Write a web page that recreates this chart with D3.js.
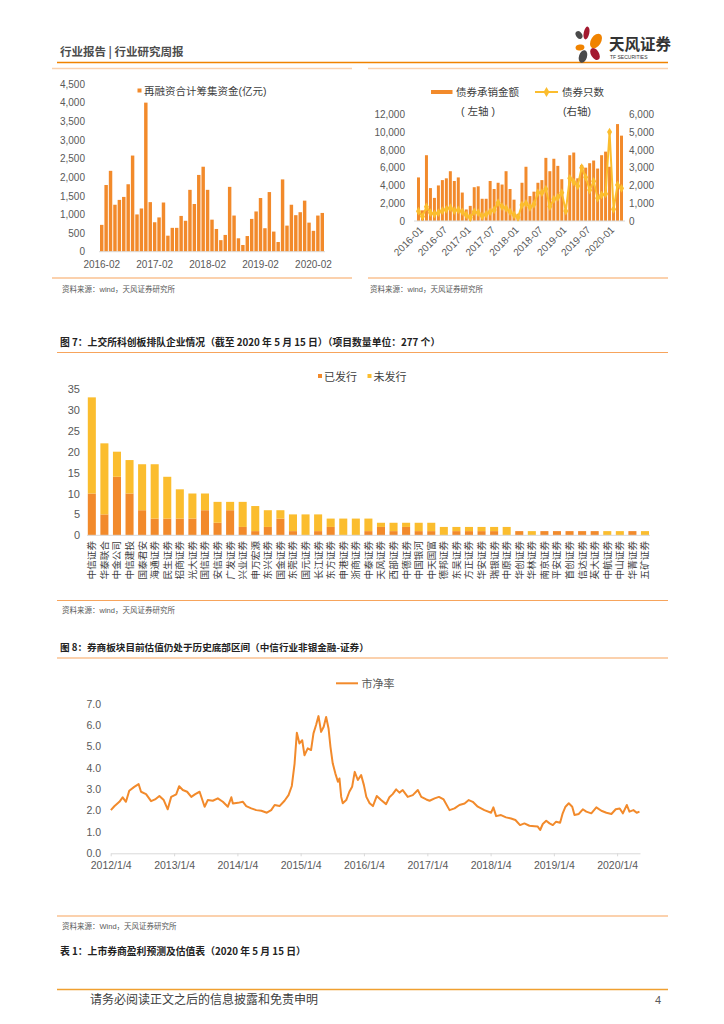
<!DOCTYPE html>
<html>
<head>
<meta charset="utf-8">
<script src="https://cdn.jsdelivr.net/npm/d3@7/dist/d3.min.js"></script>
<style>
  body { margin: 0; background: #fff; }
  svg text { font-family: "Liberation Sans", "Noto Sans CJK SC", sans-serif; }
  .cjk { font-family: "Noto Sans CJK SC", sans-serif !important; }
</style>
</head>
<body>
<svg id="page" width="724" height="1024"></svg>
<script>
// ---- data ----
const refiTicks = ["2016-02", "2017-02", "2018-02", "2019-02", "2020-02"];
const refiValues = [720, 1790, 2170, 1260, 1390, 1470, 1810, 2580, 1000, 1160, 4000, 1330,
  790, 920, 1320, 430, 640, 640, 960, 830, 1660, 1280, 2060, 2280, 1660, 860, 610, 310, 450,
  1740, 970, 360, 180, 420, 880, 1080, 1440, 630, 1600, 540, 260, 1940, 700, 1260, 980, 1060,
  1370, 780, 560, 970, 1040];

const bondTicks = ["2016-01", "2016-07", "2017-01", "2017-07", "2018-01", "2018-07",
  "2019-01", "2019-07", "2020-01"];
const bondAmount = [4900, 1200, 7400, 3700, 2600, 4000, 4600, 4800, 5600, 4500, 4900, 3200,
  1300, 1700, 3800, 3900, 2500, 2500, 4500, 3600, 4300, 4100, 5600, 3600,
  2400, 800, 4300, 6100, 2800, 3300, 4300, 4600, 7100, 5600, 7000, 6200,
  4700, 1200, 7400, 7700, 4800, 6300, 6000, 6500, 6800, 5900, 7400, 7800,
  6100, 1500, 10900, 9600];
const bondCount = [550, 250, 800, 470, 390, 470, 580, 660, 750, 580, 620, 520,
  340, 190, 520, 470, 280, 380, 520, 620, 1030, 810, 710, 520,
  340, 210, 900, 990, 770, 940, 1590, 1590, 1800, 810, 1220, 1330,
  1590, 560, 2400, 2190, 1970, 3000, 2460, 1740, 2230, 1280, 1460, 1520,
  5000, 660, 2030, 1840];

const brokers = ["中信证券", "华泰联合", "中金公司", "中信建投", "国泰君安", "海通证券", "民生证券",
  "招商证券", "光大证券", "国信证券", "安信证券", "广发证券", "兴业证券", "申万宏源", "东兴证券",
  "国金证券", "东莞证券", "国元证券", "长江证券", "东方证券", "申港证券", "浙商证券", "中泰证券",
  "天风证券", "西部证券", "中德证券", "中国银河", "中天国富", "德邦证券", "东吴证券", "方正证券",
  "华安证券", "瑞银证券", "中原证券", "华创证券", "华林证券", "南京证券", "平安证券", "首创证券",
  "信达证券", "英大证券", "中航证券", "中山证券", "华菁证券", "五矿证券"];
const issued = [10, 5, 14, 10, 6, 4, 4, 4, 4, 6, 3, 6, 2, 1, 2, 4, 1, 0, 1, 2, 0, 0, 1,
  2, 1, 2, 1, 1, 0, 1, 1, 1, 1, 0, 1, 0, 1, 1, 1, 1, 1, 0, 0, 1, 0];
const pending = [23, 17, 6, 8, 11, 13, 10, 7, 6, 4, 5, 2, 6, 6, 4, 2, 4, 5, 4, 2, 4, 4, 3,
  1, 2, 1, 2, 2, 2, 1, 1, 1, 1, 2, 0, 1, 0, 0, 0, 0, 0, 1, 1, 0, 1];

const pbTicks = ["2012-01-04", "2013-01-04", "2014-01-04", "2015-01-04", "2016-01-04",
  "2017-01-04", "2018-01-04", "2019-01-04", "2020-01-04"];
const pbDates = ["2012-01-05", "2012-01-25", "2012-02-23", "2012-03-13", "2012-04-01", "2012-04-20",
  "2012-05-19", "2012-06-13", "2012-06-27", "2012-07-26", "2012-08-24", "2012-09-16", "2012-10-11",
  "2012-11-05", "2012-11-28", "2012-12-18", "2013-01-16", "2013-02-02", "2013-02-23", "2013-03-20",
  "2013-04-13", "2013-05-06", "2013-05-31", "2013-06-29", "2013-07-17", "2013-08-15", "2013-09-13",
  "2013-10-12", "2013-11-10", "2013-11-30", "2013-12-09", "2014-01-07", "2014-02-05", "2014-02-24",
  "2014-03-25", "2014-04-23", "2014-05-22", "2014-06-23", "2014-07-18", "2014-08-07", "2014-09-04",
  "2014-10-03", "2014-10-26", "2014-11-14", "2014-11-30", "2014-12-13", "2014-12-28", "2015-01-13",
  "2015-01-26", "2015-02-14", "2015-03-05", "2015-03-19", "2015-04-03", "2015-04-17", "2015-05-02",
  "2015-05-17", "2015-05-31", "2015-06-14", "2015-06-25", "2015-07-08", "2015-07-23", "2015-08-07",
  "2015-08-16", "2015-08-26", "2015-09-04", "2015-09-24", "2015-10-12", "2015-10-28", "2015-11-12",
  "2015-11-30", "2015-12-19", "2016-01-04", "2016-01-18", "2016-02-06", "2016-02-25", "2016-03-18",
  "2016-04-12", "2016-05-11", "2016-05-30", "2016-06-18", "2016-07-08", "2016-07-27", "2016-08-15",
  "2016-09-13", "2016-10-12", "2016-11-10", "2016-11-30", "2016-12-29", "2017-01-17", "2017-02-15",
  "2017-03-12", "2017-04-08", "2017-05-12", "2017-06-10", "2017-07-08", "2017-08-07", "2017-08-31",
  "2017-09-23", "2017-10-22", "2017-11-29", "2018-01-07", "2018-01-20", "2018-02-05", "2018-03-05",
  "2018-04-03", "2018-05-02", "2018-05-27", "2018-06-23", "2018-07-18", "2018-08-16", "2018-09-14",
  "2018-10-03", "2018-10-17", "2018-11-01", "2018-11-21", "2018-12-10", "2018-12-29", "2019-01-17",
  "2019-02-09", "2019-02-24", "2019-03-12", "2019-03-31", "2019-04-20", "2019-05-03", "2019-05-28",
  "2019-06-20", "2019-07-10", "2019-08-08", "2019-09-06", "2019-10-05", "2019-11-03", "2019-12-02",
  "2019-12-27", "2020-01-19", "2020-02-06", "2020-02-29", "2020-03-15", "2020-04-07", "2020-04-26",
  "2020-05-12"];
const pbValues = [2.02, 2.20, 2.41, 2.62, 2.41, 2.93, 3.11, 3.24, 2.88, 2.77, 2.44, 2.52, 2.68,
  2.49, 2.06, 2.64, 2.76, 3.14, 2.96, 2.88, 2.64, 2.77, 2.88, 2.18, 2.49, 2.46, 2.57,
  2.41, 2.18, 2.62, 2.33, 2.36, 2.41, 2.21, 2.10, 2.02, 1.99, 1.90, 2.02, 2.26, 2.21,
  2.46, 2.72, 3.15, 4.20, 5.64, 5.14, 5.29, 4.59, 4.91, 4.83, 5.61, 6.00, 6.42, 5.68,
  5.92, 6.38, 5.84, 4.98, 4.21, 3.74, 3.35, 3.50, 2.64, 2.34, 2.49, 2.88, 3.11, 3.81,
  3.43, 3.66, 3.19, 2.64, 2.34, 2.21, 2.68, 2.49, 2.30, 2.62, 2.77, 2.99, 2.84, 2.96,
  2.64, 2.72, 2.96, 2.64, 2.52, 2.46, 2.57, 2.64, 2.52, 2.02, 2.10, 2.26, 2.33, 2.49,
  2.41, 2.18, 2.02, 1.90, 2.15, 1.74, 1.79, 1.68, 1.63, 1.56, 1.32, 1.40, 1.29, 1.27,
  1.25, 1.09, 1.37, 1.52, 1.40, 1.32, 1.48, 1.43, 1.87, 2.18, 2.34, 2.18, 1.79, 1.84,
  2.06, 1.95, 1.87, 2.15, 1.99, 1.90, 1.84, 2.06, 2.10, 1.87, 2.26, 1.95, 2.02, 1.90,
  1.95];

// ---- styles ----
const ORANGE = "#F28A2B";
const YELLOW = "#FBBD2E";
const LINE_ORANGE = "#F7A45C";
const AXIS_GREY = "#D9D9D9";
const TICK_TEXT = "#595959";

const svg = d3.select("#page");
svg.append("rect").attr("width", 724).attr("height", 1024).attr("fill", "#fff");

function label(x, y, text, opts = {}) {
  return svg.append("text")
    .attr("x", x).attr("y", y)
    .attr("font-size", opts.size || 10)
    .attr("font-weight", opts.weight || "normal")
    .attr("fill", opts.color || "#404040")
    .attr("text-anchor", opts.anchor || "start")
    .attr("class", opts.cjk ? "cjk" : null)
    .text(text);
}

function rule(x1, x2, y, color, width) {
  svg.append("line")
    .attr("x1", x1).attr("x2", x2).attr("y1", y).attr("y2", y)
    .attr("stroke", color).attr("stroke-width", width || 1);
}

function styleAxis(g, size) {
  g.select(".domain").remove();
  g.selectAll(".tick line").remove();
  g.selectAll("text").attr("fill", TICK_TEXT).attr("font-size", size || 10)
    .attr("font-family", "Liberation Sans, Noto Sans CJK SC, sans-serif");
}

// ---- header ----
label(60, 56, "行业报告 | 行业研究周报", { size: 11.5, weight: "bold", color: "#4D4D4D", cjk: true });
rule(57, 668, 62.5, "#F08300", 1.3);
rule(52, 352, 68.5, "#FAD2AE", 1.5);
rule(368, 668, 68.5, "#FAD2AE", 1.5);

const logo = svg.append("g");
[
  { cx: 579, cy: 35, rx: 3, ry: 4.2, r: -35, c: "#4A4A4A" },
  { cx: 586.5, cy: 33, rx: 2.8, ry: 6.5, r: 12, c: "#A3192F" },
  { cx: 596, cy: 41, rx: 5, ry: 8, r: 32, c: "#F08300" },
  { cx: 580, cy: 47.5, rx: 4.5, ry: 3, r: -10, c: "#F08300" },
  { cx: 583, cy: 56.5, rx: 4, ry: 6.5, r: 18, c: "#4A4A4A" },
  { cx: 595, cy: 54, rx: 4, ry: 6.5, r: -32, c: "#A3192F" },
].forEach((p) => {
  logo.append("ellipse")
    .attr("cx", p.cx).attr("cy", p.cy).attr("rx", p.rx).attr("ry", p.ry)
    .attr("transform", `rotate(${p.r}, ${p.cx}, ${p.cy})`)
    .attr("fill", p.c);
});
label(609, 50, "天风证券", { size: 15.5, weight: "bold", color: "#333", cjk: true });
label(610, 58.5, "TF SECURITIES", { size: 5, color: "#333" });

// ---- chart 1: refinancing ----
{
  const months = d3.timeMonth.range(new Date(2016, 1, 1), new Date(2020, 4, 1))
    .map(d3.timeFormat("%Y-%m"));
  const x = d3.scaleBand().domain(months).range([100, 324]).paddingInner(0.22);
  const y = d3.scaleLinear().domain([0, 4500]).range([251.7, 84]);

  svg.append("g").selectAll("rect").data(refiValues).join("rect")
    .attr("x", (d, i) => x(months[i]))
    .attr("width", x.bandwidth())
    .attr("y", (d) => y(d))
    .attr("height", (d) => y(0) - y(d))
    .attr("fill", ORANGE);

  rule(99, 325, 251.7, AXIS_GREY, 1);

  const ya = svg.append("g").attr("transform", "translate(88,0)")
    .call(d3.axisLeft(y).tickValues(d3.range(0, 4501, 500)).tickSize(0).tickPadding(3)
      .tickFormat(d3.format(",")));
  styleAxis(ya);
  const xa = svg.append("g").attr("transform", "translate(0,251.7)")
    .call(d3.axisBottom(x).tickValues(refiTicks).tickSize(0).tickPadding(9));
  styleAxis(xa);

  svg.append("rect").attr("x", 137.5).attr("y", 88.5).attr("width", 4).attr("height", 4).attr("fill", ORANGE);
  label(144, 94.5, "再融资合计筹集资金(亿元)", { size: 10.5, color: "#404040" });

  rule(52, 352, 278, LINE_ORANGE, 1.2);
  label(62, 292, "资料来源：wind，天风证券研究所", { size: 7.5, color: "#595959" });
}

// ---- chart 2: bond underwriting ----
{
  const months = d3.timeMonth.range(new Date(2016, 0, 1), new Date(2020, 4, 1))
    .map(d3.timeFormat("%Y-%m"));
  const x = d3.scaleBand().domain(months).range([417, 623]).paddingInner(0.25);
  const yL = d3.scaleLinear().domain([0, 12000]).range([221, 114.3]);
  const yR = d3.scaleLinear().domain([0, 6000]).range([221, 114.3]);

  svg.append("g").selectAll("rect").data(bondAmount).join("rect")
    .attr("x", (d, i) => x(months[i]))
    .attr("width", x.bandwidth())
    .attr("y", (d) => yL(d))
    .attr("height", (d) => yL(0) - yL(d))
    .attr("fill", ORANGE);

  rule(414, 625, 221, AXIS_GREY, 1);

  const cx = (i) => x(months[i]) + x.bandwidth() / 2;
  svg.append("path")
    .datum(bondCount)
    .attr("d", d3.line().x((d, i) => cx(i)).y((d) => yR(d)))
    .attr("fill", "none").attr("stroke", YELLOW).attr("stroke-width", 2);
  svg.append("g").selectAll("path").data(bondCount).join("path")
    .attr("d", d3.symbol(d3.symbolDiamond, 22))
    .attr("transform", (d, i) => `translate(${cx(i)},${yR(d)})`)
    .attr("fill", YELLOW);

  const ya = svg.append("g").attr("transform", "translate(408,0)")
    .call(d3.axisLeft(yL).tickValues(d3.range(0, 12001, 2000)).tickSize(0).tickPadding(3)
      .tickFormat(d3.format(",")));
  styleAxis(ya);
  const yb = svg.append("g").attr("transform", "translate(626,0)")
    .call(d3.axisRight(yR).tickValues(d3.range(0, 6001, 1000)).tickSize(0).tickPadding(3)
      .tickFormat(d3.format(",")));
  styleAxis(yb);

  svg.append("g").selectAll("text").data(bondTicks).join("text")
    .attr("transform", (d) => `translate(${x(d) + x.bandwidth() / 2 + 3},228) rotate(-45)`)
    .attr("text-anchor", "end").attr("dy", "0.35em")
    .attr("font-size", 10).attr("fill", TICK_TEXT)
    .text((d) => d);

  svg.append("rect").attr("x", 431).attr("y", 90).attr("width", 21.5).attr("height", 4).attr("fill", ORANGE);
  label(456, 96, "债券承销金额", { size: 10.5 });
  rule(535, 558, 92, YELLOW, 2);
  svg.append("path").attr("d", d3.symbol(d3.symbolDiamond, 30))
    .attr("transform", "translate(546.5,92)").attr("fill", YELLOW);
  label(562, 96, "债券只数", { size: 10.5 });
  label(478, 115, "( 左轴 )", { size: 10.5, anchor: "middle" });
  label(577, 115, "(右轴)", { size: 10.5, anchor: "middle" });

  rule(368, 668, 278, LINE_ORANGE, 1.2);
  label(370, 292, "资料来源：wind，天风证券研究所", { size: 7.5, color: "#595959" });
}

// ---- figure 7: STAR market queue ----
{
  label(60, 346, "图 7：上交所科创板排队企业情况（截至 2020 年 5 月 15 日）（项目数量单位：277 个）",
    { size: 9.8, weight: "bold", color: "#222", cjk: true });
  rule(57, 668, 352.5, LINE_ORANGE, 1.2);

  const x = d3.scaleBand().domain(brokers).range([87.8, 649]).paddingInner(0.36);
  const y = d3.scaleLinear().domain([0, 35]).range([535.3, 389]);
  const stacked = d3.stack().keys(["issued", "pending"])(
    brokers.map((b, i) => ({ broker: b, issued: issued[i], pending: pending[i] })));
  const colors = { issued: ORANGE, pending: YELLOW };

  svg.append("g").selectAll("g").data(stacked).join("g")
    .attr("fill", (s) => colors[s.key])
    .selectAll("rect").data((s) => s).join("rect")
    .attr("x", (d) => x(d.data.broker))
    .attr("width", x.bandwidth())
    .attr("y", (d) => y(d[1]))
    .attr("height", (d) => y(d[0]) - y(d[1]));

  rule(87, 650, 535.3, AXIS_GREY, 1);

  const ya = svg.append("g").attr("transform", "translate(83,0)")
    .call(d3.axisLeft(y).tickValues(d3.range(0, 36, 5)).tickSize(0).tickPadding(3));
  styleAxis(ya, 11);

  svg.append("g").selectAll("text").data(brokers).join("text")
    .attr("transform", (d) => `translate(${x(d) + x.bandwidth() / 2},541) rotate(-90)`)
    .attr("text-anchor", "end").attr("dy", "0.36em")
    .attr("font-size", 9.6).attr("fill", "#404040")
    .attr("class", "cjk")
    .text((d) => d);

  svg.append("rect").attr("x", 318).attr("y", 374).attr("width", 4).attr("height", 4).attr("fill", ORANGE);
  label(324, 380.5, "已发行", { size: 11, color: "#404040" });
  svg.append("rect").attr("x", 367.5).attr("y", 374).attr("width", 4).attr("height", 4).attr("fill", YELLOW);
  label(373.5, 380.5, "未发行", { size: 11, color: "#404040" });

  rule(57, 668, 600.5, LINE_ORANGE, 1.2);
  label(62, 613, "资料来源：wind，天风证券研究所", { size: 7.5, color: "#595959" });
}

// ---- figure 8: brokerage P/B ----
{
  label(60, 651, "图 8：券商板块目前估值仍处于历史底部区间（中信行业非银金融-证券）",
    { size: 9.6, weight: "bold", color: "#222", cjk: true });
  rule(57, 668, 658, LINE_ORANGE, 1.2);

  const parse = d3.timeParse("%Y-%m-%d");
  const x = d3.scaleTime().domain([parse("2012-01-04"), parse("2020-05-15")]).range([110.7, 640]);
  const y = d3.scaleLinear().domain([0, 7]).range([853.3, 703.7]);

  const xa = svg.append("g").attr("transform", "translate(0,853.3)")
    .call(d3.axisBottom(x).tickValues(pbTicks.map(parse)).tickSize(3).tickSizeOuter(0)
      .tickPadding(5).tickFormat(d3.timeFormat("%Y/%-m/%-d")));
  xa.select(".domain").attr("stroke", AXIS_GREY);
  xa.selectAll(".tick line").attr("stroke", AXIS_GREY);
  xa.selectAll("text").attr("fill", TICK_TEXT).attr("font-size", 10.5);

  const ya = svg.append("g").attr("transform", "translate(104,0)")
    .call(d3.axisLeft(y).tickValues(d3.range(0, 8)).tickSize(0).tickPadding(3)
      .tickFormat(d3.format(".1f")));
  styleAxis(ya, 10.5);

  svg.append("path")
    .datum(pbDates.map((d, i) => [parse(d), pbValues[i]]))
    .attr("d", d3.line().x((d) => x(d[0])).y((d) => y(d[1])))
    .attr("fill", "none").attr("stroke", ORANGE).attr("stroke-width", 2)
    .attr("stroke-linejoin", "round");

  rule(336, 358, 683.3, ORANGE, 2);
  label(361.5, 687.5, "市净率", { size: 11, color: "#595959" });

  rule(57, 668, 916, LINE_ORANGE, 1.2);
  label(62, 929, "资料来源：Wind，天风证券研究所", { size: 7.5, color: "#595959" });
}

// ---- table title + footer ----
label(60, 955, "表 1：上市券商盈利预测及估值表（2020 年 5 月 15 日）",
  { size: 9.8, weight: "bold", color: "#222", cjk: true });
rule(57, 668, 989.5, "#F0A030", 1.5);
label(90, 1004, "请务必阅读正文之后的信息披露和免责申明", { size: 12, color: "#404040", cjk: true });
label(661, 1004, "4", { size: 11, color: "#595959", anchor: "end" });
</script>
</body>
</html>
